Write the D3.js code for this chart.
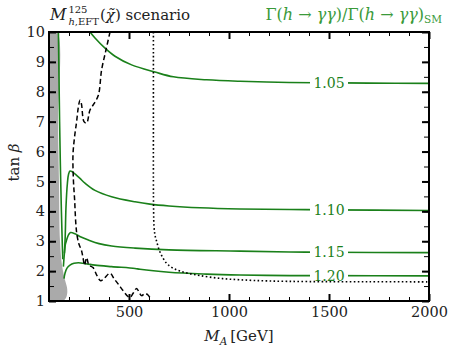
<!DOCTYPE html>
<html>
<head>
<meta charset="utf-8">
<script src="https://cdn.jsdelivr.net/npm/d3@7"></script>
<style>
  body { margin: 0; background: #fff; }
  svg text { font-family: "DejaVu Serif", "Liberation Serif", serif; }
</style>
</head>
<body>
<div id="chart"></div>
<script>
// ---- data: [M_A in GeV, tan beta] ----
var excluded = [[100,10],[140,10],[145,7],[150,5],[155,3],[165,2.2],[180,1.7],[190,1.45],[191,1.25],[183,1.08],[168,1],[100,1]];

var contour105left = [[147,10],[150,8.5],[153,7],[157,5.5],[162,4],[166,3],[169,2.4]];
var contour105 = [[305,10],[330,9.8],[380,9.46],[430,9.19],[513,8.9],[630,8.66],[722,8.5],[888,8.4],[1055,8.35],[1300,8.31],[1500,8.3],[1700,8.29],[2000,8.28]];
var contour110 = [[177,2.6],[181,3.15],[185,4.15],[192,4.94],[198,5.25],[205,5.35],[215,5.33],[230,5.25],[255,5.1],[280,4.94],[330,4.7],[413,4.49],[530,4.32],[605,4.24],[700,4.18],[855,4.12],[1055,4.08],[1305,4.06],[1500,4.05],[2000,4.03]];
var contour115 = [[172,2.15],[177,2.6],[182,2.9],[188,3.04],[198,3.22],[208,3.29],[230,3.25],[260,3.14],[297,3.04],[350,2.92],[413,2.84],[530,2.77],[700,2.71],[1055,2.67],[1305,2.64],[1500,2.63],[2000,2.62]];
var contour120 = [[175,1.75],[180,1.93],[190,2.1],[205,2.2],[225,2.26],[247,2.28],[290,2.24],[330,2.2],[413,2.15],[530,2.09],[555,2.06],[700,1.96],[888,1.9],[1055,1.87],[1305,1.85],[1500,1.85],[2000,1.84]];
var contourLevels = ["1.05", "1.10", "1.15", "1.20"];
var labelMA = 1500;

var dashedLimit = [[405,10],[385,9.4],[363,8.73],[347,7.89],[325,7.6],[305,7.39],[288,6.95],[275,7.0],[262,7.6],[255,7.72],[247,7.5],[238,7.0],[228,6.5],[220,5.9],[222,5.05],[228,4.4],[234,3.6],[240,3.2],[250,2.9],[262,2.7],[270,2.45],[278,2.2],[288,2.45],[300,2.2],[320,2.12],[340,1.85],[358,1.68],[375,1.75],[405,1.93],[425,1.75],[448,1.55],[470,1.35],[495,1.15],[505,1.12],[520,1.25],[538,1.42],[550,1.3],[563,1.18],[580,1.25],[595,1.2],[612,1.03]];

var dottedLimit = [[622,10],[622,7],[622,5],[623,4],[625,3.5],[630,3.2],[638,3.0],[650,2.72],[665,2.5],[688,2.26],[720,2.1],[755,2.0],[800,1.92],[855,1.85],[950,1.76],[1055,1.71],[1200,1.67],[1400,1.65],[1700,1.645],[2000,1.64]];

var xMajorTicks = [500, 1000, 1500, 2000];
var xMinorTicks = d3.range(100, 2001, 100);
var yMajorTicks = [1,2,3,4,5,6,7,8,9,10];
var yMinorTicks = d3.range(1, 10.01, 0.5);

var green = "#1a801a";
var serif = "'DejaVu Serif', 'Liberation Serif', serif";

// ---- layout ----
var margin = {top: 32, right: 25, bottom: 51, left: 49},
    width = 380,
    height = 269;

var svg = d3.select("#chart")
  .append("svg")
    .attr("width", width + margin.left + margin.right)
    .attr("height", height + margin.top + margin.bottom)
  .append("g")
    .attr("transform", "translate(" + margin.left + "," + margin.top + ")");

var x = d3.scaleLinear().domain([100, 2000]).range([0, width]);
var y = d3.scaleLinear().domain([1, 10]).range([height, 0]);

var defs = svg.append("defs");
defs.append("clipPath").attr("id", "plotclip")
  .append("rect").attr("width", width).attr("height", height);

var line = d3.line()
  .x(function(d) { return x(d[0]); })
  .y(function(d) { return y(d[1]); })
  .curve(d3.curveCatmullRom.alpha(0.5));

var plot = svg.append("g").attr("clip-path", "url(#plotclip)");

// excluded region
plot.append("path")
  .datum(excluded)
  .attr("d", line.curve(d3.curveCatmullRomClosed.alpha(0.5)))
  .attr("fill", "#aaaaaa");
line.curve(d3.curveCatmullRom.alpha(0.5));

// contour labels go in gaps cut with a mask
var contours = [contour105, contour110, contour115, contour120];
var labels = contours.map(function(c, i) {
  var p = c.find(function(d) { return d[0] === labelMA; });
  return {text: contourLevels[i], x: x(labelMA), y: y(p[1])};
});

var mask = defs.append("mask").attr("id", "gaps")
  .attr("maskUnits", "userSpaceOnUse")
  .attr("x", -10).attr("y", -10).attr("width", width + 20).attr("height", height + 20);
mask.append("rect").attr("x", -10).attr("y", -10)
  .attr("width", width + 20).attr("height", height + 20).attr("fill", "white");
mask.selectAll("rect.gap").data(labels).enter().append("rect")
  .attr("class", "gap")
  .attr("x", function(d) { return d.x - 19; })
  .attr("y", function(d) { return d.y - 7; })
  .attr("width", 38).attr("height", 14)
  .attr("fill", "black");

var cg = plot.append("g").attr("mask", "url(#gaps)");
cg.selectAll("path")
  .data([contour105left].concat(contours))
  .enter().append("path")
    .attr("d", line)
    .attr("fill", "none")
    .attr("stroke", green)
    .attr("stroke-width", 1.6);

plot.selectAll("text.clabel").data(labels).enter().append("text")
  .attr("class", "clabel")
  .attr("x", function(d) { return d.x; })
  .attr("y", function(d) { return d.y; })
  .attr("dy", "0.36em")
  .attr("text-anchor", "middle")
  .style("font-size", "14px")
  .style("fill", green)
  .text(function(d) { return d.text; });

plot.append("path")
  .datum(dashedLimit)
  .attr("d", line)
  .attr("fill", "none")
  .attr("stroke", "black")
  .attr("stroke-width", 1.5)
  .attr("stroke-dasharray", "5,3");

plot.append("path")
  .datum(dottedLimit)
  .attr("d", line)
  .attr("fill", "none")
  .attr("stroke", "black")
  .attr("stroke-width", 1.6)
  .attr("stroke-dasharray", "1.6,2.4");

// ---- axes, ticks pointing inward on all sides ----
function styleAxis(g, w) {
  g.attr("font-family", null).attr("font-size", null);
  g.select(".domain").remove();
  g.selectAll(".tick line").attr("stroke", "black").attr("stroke-width", w);
  g.selectAll(".tick text").style("font-size", "14.5px").style("fill", "#222")
    .style("font-family", serif);
}

svg.append("g").attr("transform", "translate(0," + height + ")")
  .call(d3.axisBottom(x).tickValues(xMinorTicks).tickSize(-4).tickFormat(""))
  .call(styleAxis, 1);
svg.append("g").attr("transform", "translate(0," + height + ")")
  .call(d3.axisBottom(x).tickValues(xMajorTicks).tickSize(-7).tickPadding(6).tickFormat(d3.format("d")))
  .call(styleAxis, 2);
svg.append("g")
  .call(d3.axisTop(x).tickValues(xMinorTicks).tickSize(-4).tickFormat(""))
  .call(styleAxis, 1);
svg.append("g")
  .call(d3.axisTop(x).tickValues(xMajorTicks).tickSize(-7).tickFormat(""))
  .call(styleAxis, 2);

svg.append("g")
  .call(d3.axisLeft(y).tickValues(yMinorTicks).tickSize(-5).tickFormat(""))
  .call(styleAxis, 1);
svg.append("g")
  .call(d3.axisLeft(y).tickValues(yMajorTicks).tickSize(-7).tickPadding(4).tickFormat(d3.format("d")))
  .call(styleAxis, 2);
svg.append("g").attr("transform", "translate(" + width + ",0)")
  .call(d3.axisRight(y).tickValues(yMinorTicks).tickSize(-5).tickFormat(""))
  .call(styleAxis, 1);
svg.append("g").attr("transform", "translate(" + width + ",0)")
  .call(d3.axisRight(y).tickValues(yMajorTicks).tickSize(-7).tickFormat(""))
  .call(styleAxis, 2);

svg.append("rect")
  .attr("width", width).attr("height", height)
  .attr("fill", "none").attr("stroke", "black").attr("stroke-width", 2);

// ---- axis titles ----
var xl = svg.append("text")
  .attr("x", width / 2).attr("y", height + 40)
  .attr("text-anchor", "middle")
  .style("font-size", "15px").style("fill", "#222");
xl.append("tspan").style("font-style", "italic").text("M");
xl.append("tspan").attr("dy", 4).style("font-size", "10.5px").style("font-style", "italic").text("A");
xl.append("tspan").attr("dy", -4).attr("dx", 3).text("[GeV]");

var yl = svg.append("text")
  .attr("transform", "translate(-30," + (height / 2 - 4) + ") rotate(-90)")
  .attr("text-anchor", "middle")
  .style("font-size", "15px").style("fill", "#222");
yl.append("tspan").text("tan ");
yl.append("tspan").style("font-style", "italic").text("β");

// ---- top titles ----
var t1 = svg.append("g").attr("transform", "translate(0,-12)");
var tM = t1.append("text").attr("x", 1).attr("y", 0)
  .style("font-size", "16px").style("font-style", "italic").style("fill", "#222").text("M");
var mW = tM.node().getComputedTextLength() + 3;
t1.append("text").attr("x", mW).attr("y", -7)
  .style("font-size", "10px").style("fill", "#222").text("125");
var sub = t1.append("text").attr("x", mW).attr("y", 5)
  .style("font-size", "10px").style("fill", "#222");
sub.append("tspan").style("font-style", "italic").text("h");
sub.append("tspan").text(",EFT");
var sW = mW + sub.node().getComputedTextLength() + 1;
var rest = t1.append("text").attr("x", sW).attr("y", 0)
  .style("font-size", "15px").style("fill", "#222");
rest.append("tspan").text("(");
rest.append("tspan").style("font-style", "italic").text("\u03C7\u0303");
rest.append("tspan").text(") scenario");

var t2 = svg.append("text")
  .attr("x", width + 13).attr("y", -12)
  .attr("text-anchor", "end")
  .style("font-size", "16px").style("fill", "#3a9a3a");
t2.append("tspan").text("Γ(");
t2.append("tspan").style("font-style", "italic").text("h");
t2.append("tspan").text(" → ");
t2.append("tspan").style("font-style", "italic").text("γγ");
t2.append("tspan").text(")/Γ(");
t2.append("tspan").style("font-style", "italic").text("h");
t2.append("tspan").text(" → ");
t2.append("tspan").style("font-style", "italic").text("γγ");
t2.append("tspan").text(")");
t2.append("tspan").attr("dy", 3).style("font-size", "10.5px").text("SM");
</script>
</body>
</html>
